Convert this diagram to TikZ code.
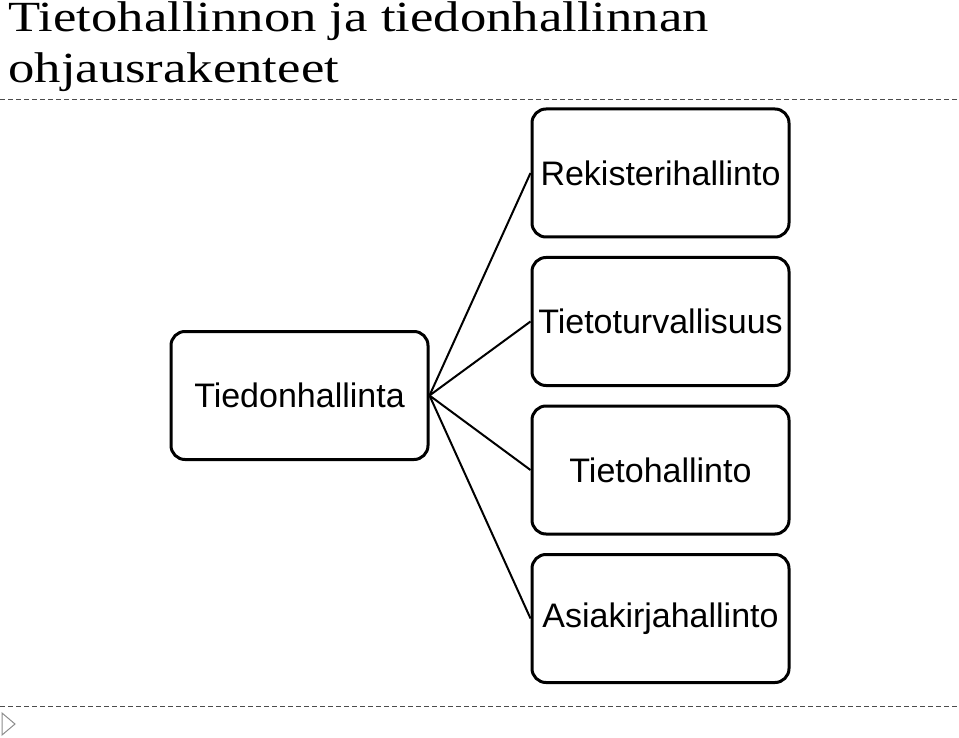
\documentclass[tikz,border=0pt]{standalone}
\usepackage{fontspec}
\setmainfont{Liberation Serif}
\newfontfamily\boxfont{Liberation Sans}
\begin{document}
\begin{tikzpicture}[x=1pt,y=-1pt,
  card/.style={draw=black,line width=3pt,rounded corners=14pt,minimum width=257pt,minimum height=128pt,inner sep=0pt,font=\boxfont\fontsize{34}{40}\selectfont},
  link/.style={draw=black,line width=2pt},
  titletext/.style={anchor=base west,inner sep=0pt,font=\fontsize{43}{50}\selectfont,xscale=1.225,transform shape},
  sep/.style={draw=black!70,line width=1pt,dash pattern=on 5pt off 3pt}]
\useasboundingbox (0,0) rectangle (959,738);
\node[titletext] (t1) at (8.2,32) {Tietohallinnon ja tiedonhallinnan};
\node[titletext] (t2) at (8.2,83) {ohjausrakenteet};
\coordinate (s1a) at (0,100); \coordinate (s1b) at (959,100);
\coordinate (s2a) at (0,706); \coordinate (s2b) at (959,706);
\draw[sep] (s1a) -- (s1b);
\draw[sep] (s2a) -- (s2b);
\coordinate (ta) at (2,713); \coordinate (tb) at (15,724); \coordinate (tc) at (2,735);
\draw[draw=black!45,line width=1pt] (ta) -- (tb) -- (tc) -- cycle;
\node[card] (root) at (299.5,395.5) {Tiedonhallinta};
\node[card] (b1) at (660.5,173) {Rekisterihallinto};
\node[card] (b2) at (660.5,321.5) {Tietoturvallisuus};
\node[card] (b3) at (660.5,470) {Tietohallinto};
\node[card] (b4) at (660.5,618.5) {Asiakirjahallinto};
\foreach \b in {b1,b2,b3,b4} \draw[link] (root.east) -- (\b.west);
\end{tikzpicture}
\end{document}
